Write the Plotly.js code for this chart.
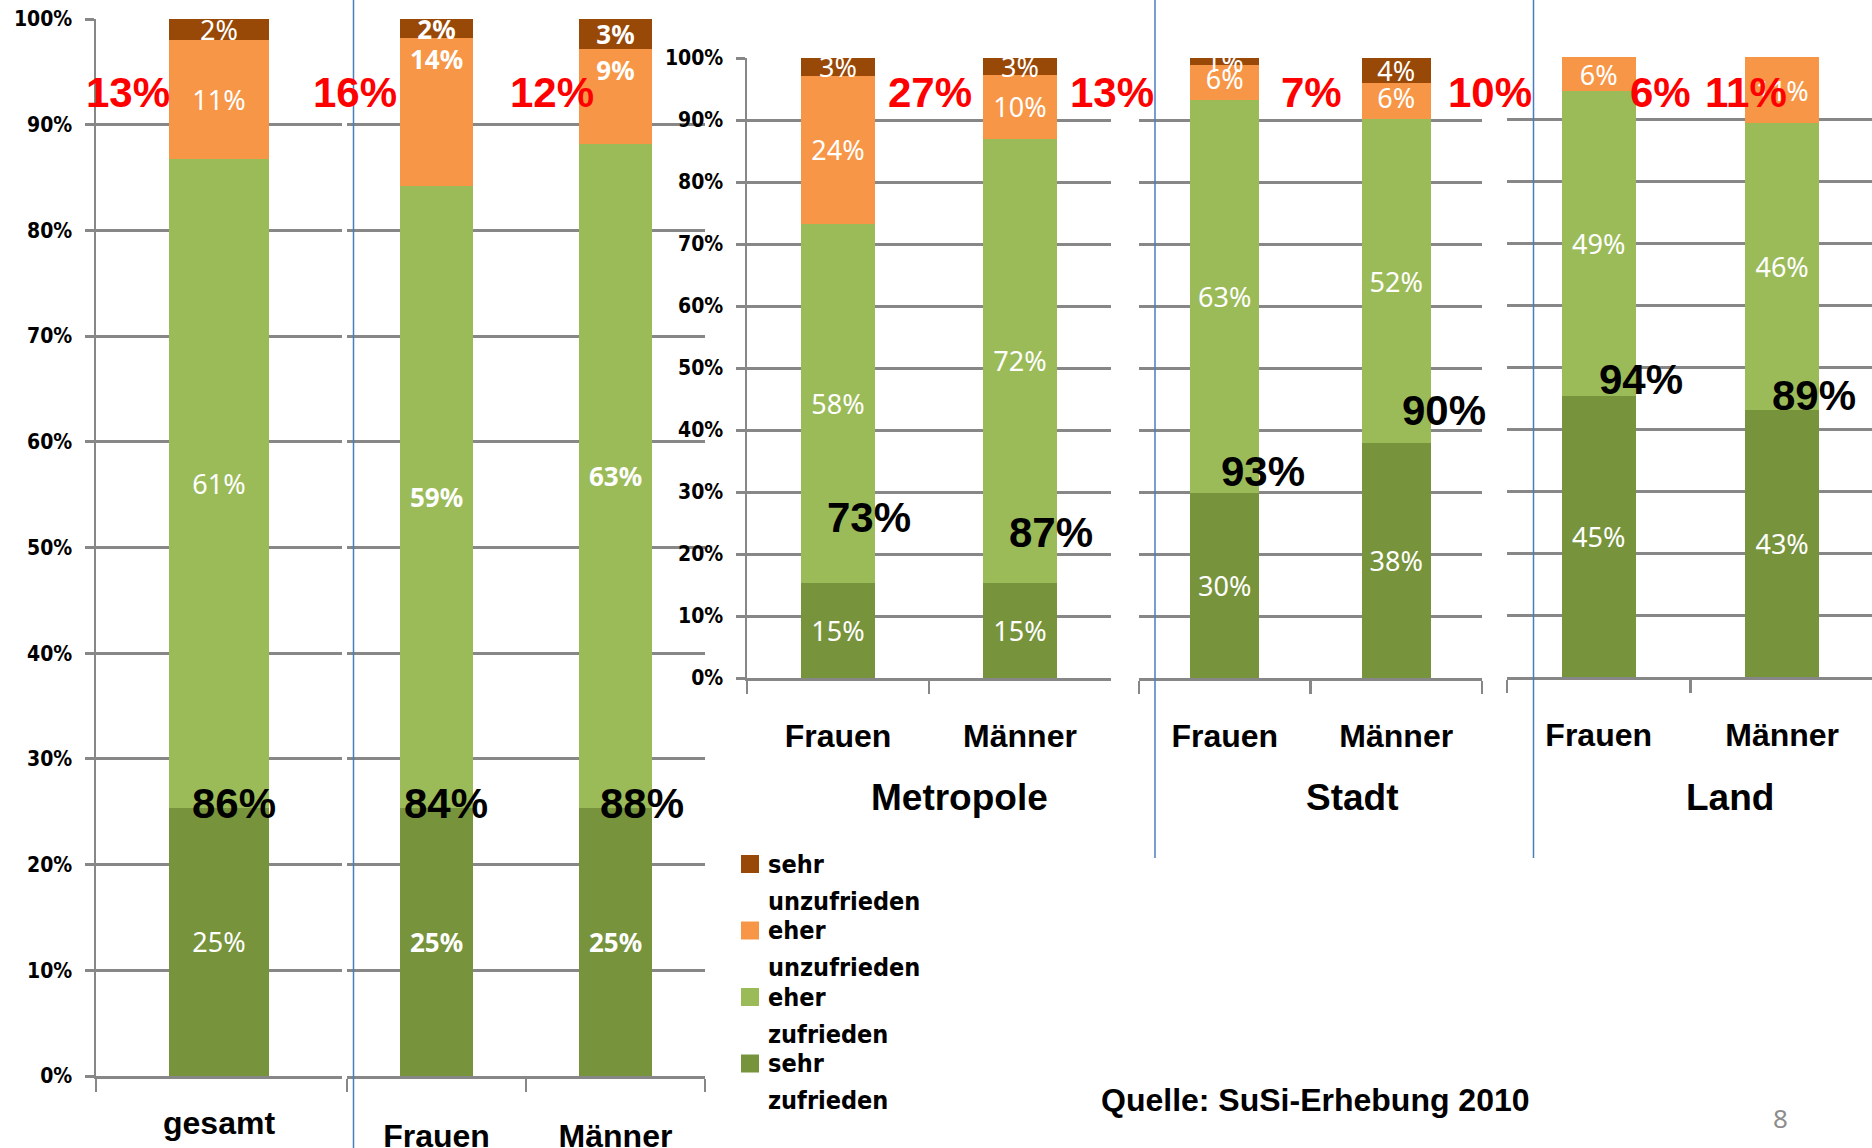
<!DOCTYPE html>
<html>
<head>
<meta charset="utf-8">
<script src="https://cdn.plot.ly/plotly-3.0.1.min.js"></script>
<style>
html,body{margin:0;padding:0;background:#ffffff;}
#chart{width:1872px;height:1148px;}
</style>
</head>
<body>
<div id="chart"></div>
<script>
// ---------------- DATA ----------------
// bar order: gesamt | Frauen, Männer | Metropole: Frauen, Männer | Stadt: Frauen, Männer | Land: Frauen, Männer
const panelCategories = [['gesamt'], ['Frauen', 'Männer'], ['Frauen', 'Männer'], ['Frauen', 'Männer'], ['Frauen', 'Männer']];
const groupLabels = ['Metropole', 'Stadt', 'Land'];
const seriesNames = ['sehr zufrieden', 'eher zufrieden', 'eher unzufrieden', 'sehr unzufrieden'];
const legendLines = [['sehr', 'unzufrieden'], ['eher', 'unzufrieden'], ['eher', 'zufrieden'], ['sehr', 'zufrieden']];

const sehrZufrieden   = [25.4, 25.4, 25.4, 15.4, 15.4, 29.8, 37.9, 45.4, 43.1];
const eherZufrieden   = [61.4, 58.8, 62.8, 57.9, 71.6, 63.4, 52.2, 49.1, 46.2];
const eherUnzufrieden = [11.2, 14.0,  9.0, 23.8, 10.3,  5.6,  5.8,  5.5, 10.7];
const sehrUnzufrieden = [ 2.0,  1.8,  2.8,  2.9,  2.7,  1.2,  4.1,  0.0,  0.0];

const yTickValues = [0, 10, 20, 30, 40, 50, 60, 70, 80, 90, 100];
const sourceText = 'Quelle: SuSi-Erhebung 2010';
const pageNumber = '8';

// ---------------- STYLE / LAYOUT ----------------
const W = 1872, H = 1148;
const px = v => v / W;
const py = v => 1 - v / H;

const seriesValues = [sehrZufrieden, eherZufrieden, eherUnzufrieden, sehrUnzufrieden];
const seriesColors = ['#77933C', '#9BBB59', '#F79646', '#984807'];
const gridColor = '#878787';
const blue = '#4A7EBB';

const panelBars = [[0], [1, 2], [3, 4], [5, 6], [7, 8]];
const panelGeom = [
  {x0: 96,   x1: 342,  top: 19, bottom: 1076, yLabels: true,  yLine: true,  xRange: [-0.5, 0.5],  standoff: 17, bold: false, anchors: ['middle', 'middle', 'middle', 'middle']},
  {x0: 347,  x1: 705,  top: 19, bottom: 1076, yLabels: false, yLine: false, xRange: [-0.5, 1.5],  standoff: 30, bold: true,  anchors: ['middle', 'middle', 'end', 'middle']},
  {x0: 747,  x1: 1111, top: 58, bottom: 678,  yLabels: true,  yLine: true,  xRange: [-0.5, 1.5],  standoff: 28, bold: false, anchors: ['middle', 'middle', 'middle', 'middle']},
  {x0: 1139, x1: 1482, top: 58, bottom: 678,  yLabels: false, yLine: false, xRange: [-0.5, 1.5],  standoff: 28, bold: false, anchors: ['middle', 'middle', 'start', 'middle']},
  {x0: 1507, x1: 1872, top: 57, bottom: 677,  yLabels: false, yLine: false, xRange: [-0.5, 1.49], standoff: 28, bold: false, anchors: ['middle', 'middle', 'middle', 'middle']}
];

// pixel centres of the summary labels (per bar)
const redPos   = [[128, 92], [355, 92], [552, 92], [930, 92], [1112, 92], [1311, 92], [1490, 92], [1660, 92], [1746, 92]];
const blackPos = [[234, 803], [446, 803], [642, 803], [869, 517], [1051, 532], [1263, 471], [1444, 410], [1641, 380], [1814, 395]];
const groupPos = [[960, 797], [1352, 797], [1730, 797]];

const traces = [];
const layout = {
  width: W, height: H,
  margin: {l: 0, r: 0, t: 0, b: 0},
  paper_bgcolor: '#ffffff',
  plot_bgcolor: 'rgba(0,0,0,0)',
  barmode: 'stack',
  bargap: 0.595,
  showlegend: false,
  annotations: [],
  shapes: []
};

panelGeom.forEach((g, p) => {
  const n = p + 1;
  const xa = n === 1 ? 'x' : 'x' + n;
  const ya = n === 1 ? 'y' : 'y' + n;
  const bars = panelBars[p];
  seriesValues.forEach((vals, s) => {
    const yv = bars.map(i => vals[i]);
    traces.push({
      type: 'bar',
      name: seriesNames[s],
      x: panelCategories[p],
      y: yv,
      xaxis: xa, yaxis: ya,
      marker: {color: seriesColors[s], line: {width: 0}},
      text: yv.map(v => v > 0 ? Math.round(v) + '%' : ''),
      textposition: 'inside',
      insidetextanchor: g.anchors[s],
      textangle: 0,
      constraintext: 'none',
      textfont: {family: 'Noto Sans, Open Sans, sans-serif', size: g.bold ? 26 : 27, color: '#ffffff', weight: g.bold ? 'bold' : 'normal'},
      hoverinfo: 'skip',
      showlegend: false
    });
  });
  layout['xaxis' + (n === 1 ? '' : n)] = {
    domain: [px(g.x0), px(g.x1)],
    anchor: ya,
    type: 'category',
    range: g.xRange,
    showgrid: false,
    zeroline: false,
    showline: true, linecolor: gridColor, linewidth: 3,
    ticks: 'outside', tickson: 'boundaries', ticklen: 13, tickwidth: 2.5, tickcolor: gridColor,
    ticklabelstandoff: g.standoff,
    tickfont: {family: 'Liberation Sans, Arial, sans-serif', size: 32, color: '#000000', weight: 'bold'},
    fixedrange: true
  };
  layout['yaxis' + (n === 1 ? '' : n)] = {
    domain: [py(g.bottom), py(g.top)],
    anchor: xa,
    range: [0, 100],
    tickmode: 'array',
    tickvals: yTickValues,
    ticktext: yTickValues.map(v => v + '%'),
    showgrid: true, gridcolor: gridColor, gridwidth: 3,
    zeroline: false,
    showline: g.yLine, linecolor: gridColor, linewidth: 2.5,
    ticks: g.yLine ? 'outside' : '', ticklen: 9, tickwidth: 3, tickcolor: gridColor,
    showticklabels: g.yLabels,
    ticklabelstandoff: 8,
    tickfont: {family: 'DejaVu Sans Condensed, DejaVu Sans, sans-serif', size: 21, color: '#000000', weight: 'bold'},
    fixedrange: true
  };
});

// summary annotations (computed from the rounded segment values)
for (let i = 0; i < sehrZufrieden.length; i++) {
  const zuf = Math.round(sehrZufrieden[i]) + Math.round(eherZufrieden[i]);
  const unz = Math.round(eherUnzufrieden[i]) + Math.round(sehrUnzufrieden[i]);
  layout.annotations.push({
    xref: 'paper', yref: 'paper', x: px(redPos[i][0]), y: py(redPos[i][1]),
    xanchor: 'center', yanchor: 'middle', showarrow: false,
    text: unz + '%',
    font: {family: 'Liberation Sans, Arial, sans-serif', size: 42, color: '#FF0000', weight: 'bold'}
  });
  layout.annotations.push({
    xref: 'paper', yref: 'paper', x: px(blackPos[i][0]), y: py(blackPos[i][1]),
    xanchor: 'center', yanchor: 'middle', showarrow: false,
    text: zuf + '%',
    font: {family: 'Liberation Sans, Arial, sans-serif', size: 42, color: '#000000', weight: 'bold'}
  });
}

// group labels
groupLabels.forEach((t, k) => {
  layout.annotations.push({
    xref: 'paper', yref: 'paper', x: px(groupPos[k][0]), y: py(groupPos[k][1]),
    xanchor: 'center', yanchor: 'middle', showarrow: false, text: t,
    font: {family: 'Liberation Sans, Arial, sans-serif', size: 37, color: '#000000', weight: 'bold'}
  });
});

// legend (top item = sehr unzufrieden)
const legendOrder = [3, 2, 1, 0];
legendOrder.forEach((s, k) => {
  const cy = 864 + k * 66.5;
  layout.shapes.push({
    type: 'rect', xref: 'paper', yref: 'paper',
    x0: px(741), x1: px(759), y0: py(cy - 9), y1: py(cy + 9),
    fillcolor: seriesColors[s], line: {width: 0}
  });
  const lines = legendLines[k];
  lines.forEach((ln, j) => {
    layout.annotations.push({
      xref: 'paper', yref: 'paper', x: px(766), y: py(cy + j * 37),
      xanchor: 'left', yanchor: 'middle', showarrow: false, text: ln,
      font: {family: 'DejaVu Sans Condensed, DejaVu Sans, sans-serif', size: 25, color: '#000000', weight: 'bold'}
    });
  });
});

// source and page number
layout.annotations.push({
  xref: 'paper', yref: 'paper', x: px(1315), y: py(1100),
  xanchor: 'center', yanchor: 'middle', showarrow: false, text: sourceText,
  font: {family: 'Liberation Sans, Arial, sans-serif', size: 32, color: '#000000', weight: 'bold'}
});
layout.annotations.push({
  xref: 'paper', yref: 'paper', x: px(1780), y: py(1118),
  xanchor: 'center', yanchor: 'middle', showarrow: false, text: pageNumber,
  font: {family: 'Noto Sans, sans-serif', size: 26, color: '#8C8C8C'}
});

// blue separators
[[353.5, 0, 1148], [1155, 0, 858], [1533.5, 0, 858]].forEach(l => {
  layout.shapes.push({
    type: 'line', xref: 'paper', yref: 'paper',
    x0: px(l[0]), x1: px(l[0]), y0: py(l[1]), y1: py(l[2]),
    line: {color: blue, width: 1.5}
  });
});

Plotly.newPlot('chart', traces, layout, {displayModeBar: false, staticPlot: true});
</script>
</body>
</html>
